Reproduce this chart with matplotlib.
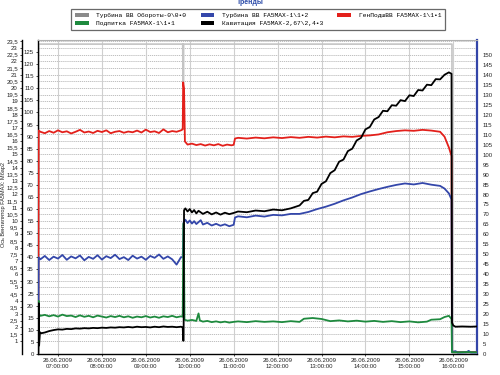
import matplotlib
matplotlib.use("Agg")
import matplotlib.pyplot as plt
from matplotlib.patches import Patch
from matplotlib.font_manager import FontProperties
from matplotlib.ticker import FixedLocator

# ---------------- data (time in hours of 26.06.2009, values on inner left scale 0..130) -------------
hour_ticks = [7, 8, 9, 10, 11, 12, 13, 14, 15, 16]
hour_labels = ["26.06.2009\n%02d:00:00" % h for h in hour_ticks]

series_names = ["Турбина ВВ Обороты-0\\0•0", "Подпитка FA5MAX-1\\1•1",
                "Турбина ВВ FA5MAX-1\\1•2", "Кавитация FA5MAX-2,67\\2,4•3",
                "ГенПодшВВ FA5MAX-1\\1•1"]

t_gray = [6.55, 6.56, 9.84, 9.845, 9.85, 9.855, 9.86, 15.97, 15.975, 16.54]
v_gray = [0, 128.3, 128.3, 111.0, 128.3, 112.0, 128.3, 128.3, 0.3, 0.3]

t_red = [6.55, 6.56, 6.6, 6.7, 6.8, 6.9, 7.0, 7.1, 7.2, 7.3, 7.4, 7.5, 7.6, 7.7, 7.8, 7.9,
         8.0, 8.1, 8.2, 8.3, 8.4, 8.5, 8.6, 8.7, 8.8, 8.9, 9.0, 9.1, 9.2, 9.3, 9.4, 9.5,
         9.6, 9.7, 9.8, 9.84, 9.85, 9.87, 9.89, 9.95, 10.05, 10.15, 10.25, 10.35, 10.45,
         10.55, 10.65, 10.75, 10.85, 10.95, 11.0, 11.03, 11.1, 11.3, 11.5, 11.7, 11.9,
         12.1, 12.3, 12.5, 12.7, 12.9, 13.1, 13.3, 13.5, 13.7, 13.9, 14.1, 14.3, 14.5,
         14.7, 14.9, 15.1, 15.3, 15.5, 15.7, 15.8, 15.9, 15.96, 15.97, 16.1, 16.3, 16.54]
v_red = [0, 92.5, 92.0, 91.4, 92.3, 91.6, 92.6, 91.8, 92.2, 91.3, 92.0, 92.8, 91.7, 92.1,
         91.5, 92.4, 91.9, 92.6, 91.4, 92.0, 92.3, 91.6, 92.1, 91.8, 92.5, 91.7, 92.9, 91.9,
         92.2, 91.5, 93.0, 91.8, 92.3, 92.0, 92.6, 93.0, 112.5, 110.0, 88.0, 86.7, 87.1,
         86.5, 86.9, 86.3, 86.8, 86.4, 86.9, 86.2, 86.7, 86.4, 86.6, 89.2, 89.5, 89.2, 89.6,
         89.3, 89.7, 89.4, 89.8, 89.5, 89.9, 89.6, 90.0, 89.7, 90.1, 89.9, 90.3, 90.5, 90.9,
         91.8, 92.3, 92.6, 92.4, 92.8, 92.5, 92.0, 90.0, 85.5, 82.0, 1.0, 0.8, 0.8, 0.8]

t_blue = [6.55, 6.56, 6.6, 6.7, 6.8, 6.9, 7.0, 7.1, 7.2, 7.3, 7.4, 7.5, 7.6, 7.7, 7.8, 7.9,
          8.0, 8.1, 8.2, 8.3, 8.4, 8.5, 8.6, 8.7, 8.8, 8.9, 9.0, 9.1, 9.2, 9.3, 9.4, 9.5,
          9.6, 9.7, 9.8, 9.84, 9.86, 9.9, 9.95, 10.0, 10.05, 10.1, 10.15, 10.2, 10.25, 10.3,
          10.4, 10.5, 10.6, 10.7, 10.8, 10.9, 11.0, 11.03, 11.1, 11.3, 11.5, 11.7, 11.9,
          12.1, 12.3, 12.5, 12.7, 12.9, 13.1, 13.3, 13.5, 13.7, 13.9, 14.1, 14.3, 14.5,
          14.7, 14.9, 15.1, 15.3, 15.5, 15.7, 15.8, 15.9, 15.96, 15.97, 16.05, 16.1, 16.3,
          16.35, 16.4, 16.54]
v_blue = [0, 40.0, 39.2, 40.6, 38.9, 40.3, 39.5, 41.0, 39.0, 40.4, 39.6, 40.8, 38.8, 40.2,
          39.4, 40.9, 39.1, 40.5, 39.7, 41.1, 39.3, 40.1, 38.9, 40.7, 39.5, 40.3, 39.0, 40.6,
          39.8, 41.2, 39.4, 40.4, 39.2, 37.0, 40.1, 40.0, 54.5, 55.6, 54.2, 55.3, 54.0, 55.0,
          53.8, 54.6, 55.4, 53.6, 54.3, 53.2, 53.9, 53.1, 53.7, 52.9, 53.5, 56.5, 57.0, 56.6,
          57.3, 56.9, 57.6, 57.4, 58.0, 58.0, 58.8, 60.0, 61.0, 62.2, 63.6, 64.8, 66.2, 67.3,
          68.3, 69.2, 70.0, 70.6, 70.2, 70.8, 70.1, 69.6, 68.5, 66.5, 64.0, 0.8, 1.2, 0.6,
          0.7, 1.3, 0.6, 0.6]

t_black = [6.55, 6.56, 6.57, 6.59, 6.62, 6.7, 6.8, 6.9, 7.0, 7.1, 7.2, 7.3, 7.4, 7.5, 7.6,
           7.7, 7.8, 7.9, 8.0, 8.1, 8.2, 8.3, 8.4, 8.5, 8.6, 8.7, 8.8, 8.9, 9.0, 9.1, 9.2,
           9.3, 9.4, 9.5, 9.6, 9.7, 9.8, 9.84, 9.85, 9.86, 9.87, 9.9, 9.95, 10.0, 10.05, 10.1,
           10.15, 10.2, 10.3, 10.4, 10.5, 10.6, 10.7, 10.8, 10.9, 11.0, 11.1, 11.3, 11.5,
           11.7, 11.9, 12.1, 12.3, 12.5, 12.6, 12.7, 12.8, 12.9, 13.0, 13.1, 13.2, 13.3,
           13.4, 13.5, 13.6, 13.7, 13.8, 13.9, 14.0, 14.1, 14.2, 14.3, 14.4, 14.5, 14.6,
           14.7, 14.8, 14.9, 15.0, 15.1, 15.2, 15.3, 15.4, 15.5, 15.6, 15.7, 15.8, 15.9,
           15.96, 15.97, 16.0, 16.05, 16.2, 16.4, 16.54]
v_black = [0, 21.0, 3.5, 9.0, 8.6, 8.9, 9.5, 9.9, 10.2, 10.1, 10.4, 10.3, 10.6, 10.5, 10.7,
           10.6, 10.8, 10.7, 10.9, 10.8, 11.0, 10.9, 11.1, 11.0, 11.2, 11.0, 11.3, 11.1, 11.2,
           11.0, 11.3, 11.1, 11.4, 11.2, 11.3, 11.1, 11.3, 11.0, 5.5, 5.5, 59.5, 60.3, 59.0,
           60.0, 58.6, 59.6, 58.2, 59.3, 58.0, 58.9, 57.8, 58.6, 57.7, 58.5, 57.9, 58.4, 59.0,
           58.7, 59.4, 59.1, 59.8, 59.5, 60.3, 61.5, 63.4, 63.8, 66.6, 67.2, 70.4, 71.5, 74.9,
           76.1, 79.6, 80.5, 84.0, 85.0, 88.4, 89.5, 93.0, 94.0, 97.1, 98.1, 100.7, 100.5,
           103.0, 102.8, 105.1, 104.7, 107.1, 106.8, 109.3, 109.1, 111.5, 111.3, 113.8, 113.7,
           115.6, 116.6, 116.0, 13.0, 11.8, 11.3, 11.4, 11.3, 11.4]

t_green = [6.55, 6.56, 6.57, 6.6, 6.7, 6.8, 6.9, 7.0, 7.1, 7.2, 7.3, 7.4, 7.5, 7.6, 7.7,
           7.8, 7.9, 8.0, 8.1, 8.2, 8.3, 8.4, 8.5, 8.6, 8.7, 8.8, 8.9, 9.0, 9.1, 9.2, 9.3,
           9.4, 9.5, 9.6, 9.7, 9.8, 9.84, 9.855, 9.865, 9.88, 9.95, 10.05, 10.15, 10.2, 10.23,
           10.3, 10.4, 10.5, 10.6, 10.7, 10.8, 10.9, 11.0, 11.1, 11.3, 11.5, 11.7, 11.9, 12.1,
           12.3, 12.5, 12.6, 12.8, 13.0, 13.2, 13.4, 13.6, 13.8, 14.0, 14.2, 14.4, 14.6, 14.8,
           15.0, 15.2, 15.4, 15.5, 15.7, 15.8, 15.9, 15.96, 15.97, 16.1, 16.3, 16.54]
v_green = [0, 22.0, 16.5, 15.8, 16.2, 15.6, 16.1, 15.5, 16.3, 15.7, 15.9, 15.3, 16.0, 15.4,
           15.8, 15.2, 15.9, 15.5, 15.1, 15.7, 15.3, 15.8, 15.2, 15.6, 15.0, 15.5, 15.2, 15.7,
           15.1, 15.5, 15.0, 15.6, 15.3, 15.8, 15.2, 15.6, 15.4, 54.0, 54.0, 14.2, 13.8, 14.1,
           13.7, 16.8, 13.9, 13.4, 13.7, 13.2, 13.5, 13.1, 13.4, 13.0, 13.3, 13.5, 13.2, 13.6,
           13.3, 13.5, 13.2, 13.6, 13.3, 14.6, 14.9, 14.5, 13.6, 13.9, 13.5, 13.8, 13.4, 13.7,
           13.3, 13.6, 13.2, 13.5, 13.1, 13.4, 14.2, 14.4, 15.3, 15.8, 14.5, 0.8, 0.7, 0.8, 0.7]

colors = {"gray": "#c4c4c4", "green": "#1e8a3e", "blue": "#3447aa",
          "black": "#000000", "red": "#e3201b"}

# ---------------- figure ----------------
fig = plt.figure(figsize=(5, 3.75), dpi=100)
L, R, B, T = 38 / 500, 477 / 500, 21 / 375, 1 - 40 / 375
ax = fig.add_axes([L, B, R - L, T - B])
ax_outer = ax.twinx()
ax_right = ax.twinx()
ax.set_zorder(3)
ax.patch.set_visible(False)
ax_outer.set_zorder(1)
ax_right.set_zorder(2)

tick_font = dict(fontsize=4.3, family="Liberation Sans", color="#222222")

# main (inner left) axis
ax.set_xlim(6.545, 16.54)
ax.set_ylim(0, 130)
ax.yaxis.set_major_locator(FixedLocator(list(range(0, 130, 5))))
ax.set_yticklabels([str(v) for v in range(0, 130, 5)], **tick_font)
ax.xaxis.set_major_locator(FixedLocator(hour_ticks))
ax.set_xticklabels(hour_labels, **tick_font)
ax.tick_params(axis="both", length=1.5, width=0.5, pad=1.5)
ax.grid(axis="x", color="#cfcfcf", lw=0.8, ls="-")
ax.set_axisbelow(True)
ax.spines["right"].set_visible(False)
ax.spines["top"].set_color("#b0b0b0")
ax.spines["top"].set_linewidth(0.8)
ax.spines["left"].set_linewidth(1.0)
ax.spines["bottom"].set_linewidth(1.0)

# outer left axis
ax_outer.set_ylim(0, 23.6)
ax_outer.spines["left"].set_position(("outward", 11.5))
ax_outer.spines["left"].set_visible(True)
ax_outer.spines["left"].set_linewidth(1.0)
ax_outer.yaxis.set_ticks_position("left")
ax_outer.yaxis.set_label_position("left")
outer_ticks = [1 + 0.5 * i for i in range(46)]
ax_outer.yaxis.set_major_locator(FixedLocator(outer_ticks))
ax_outer.set_yticklabels([("%g" % v).replace(".", ",") for v in outer_ticks], **tick_font)
ax_outer.tick_params(axis="y", length=1.5, width=0.5, pad=1.5)
ax_outer.tick_params(axis="x", bottom=False, labelbottom=False, top=False, labeltop=False)
for s in ["right", "top", "bottom"]:
    ax_outer.spines[s].set_visible(False)
ax_outer.grid(axis="y", color="#9c9c9c", lw=0.45, ls=(0, (2.0, 1.3)))

# right axis
ax_right.set_ylim(0, 157.5)
ax_right.yaxis.set_major_locator(FixedLocator(list(range(0, 155, 5))))
ax_right.set_yticklabels([str(v) for v in range(0, 155, 5)], **tick_font)
ax_right.tick_params(axis="y", length=0, pad=4)
ax_right.tick_params(axis="x", bottom=False, labelbottom=False, top=False, labeltop=False)
for s in ["left", "top", "bottom"]:
    ax_right.spines[s].set_visible(False)
ax_right.spines["right"].set_color("#3345a8")
ax_right.spines["right"].set_linewidth(1.6)

fig.text(1 / 500, 1 - 205 / 375, "Ось Вентилятор FA5MAX: Мбар2", rotation=90,
         fontsize=4.0, family="Liberation Sans", va="center", ha="left", color="#222222")

# data lines
lw = 1.3
ax.plot(t_gray, v_gray, color=colors["gray"], lw=1.2, zorder=2)
ax.plot(t_red, v_red, color=colors["red"], lw=lw, zorder=3)
ax.plot(t_blue, v_blue, color=colors["blue"], lw=lw, zorder=4)
ax.plot(t_green, v_green, color=colors["green"], lw=lw, zorder=5)
ax.plot(t_black, v_black, color=colors["black"], lw=lw, zorder=6)

# legend
handles = [Patch(facecolor="#8a8a8a", edgecolor="none"),
           Patch(facecolor=colors["green"], edgecolor="none"),
           Patch(facecolor=colors["blue"], edgecolor="none"),
           Patch(facecolor=colors["black"], edgecolor="none"),
           Patch(facecolor=colors["red"], edgecolor="none")]
leg = fig.legend(handles, series_names, ncol=3, loc="upper left",
                 bbox_to_anchor=(68 / 500, 1 - 6 / 375),
                 prop=FontProperties(family="Liberation Mono", size=4.5),
                 frameon=True, fancybox=False, edgecolor="#444444",
                 handlelength=2.2, handleheight=0.6, handletextpad=1.2,
                 columnspacing=2.3, borderpad=0.6, labelspacing=0.5)
leg.get_frame().set_linewidth(0.9)

fig.text(0.5, 1 - 2 / 375, "Тренды", color="#2a4aa8", fontsize=5, fontweight="bold",
         family="Liberation Sans", ha="center", va="center")

fig.savefig("out.png", dpi=100, facecolor="white")
